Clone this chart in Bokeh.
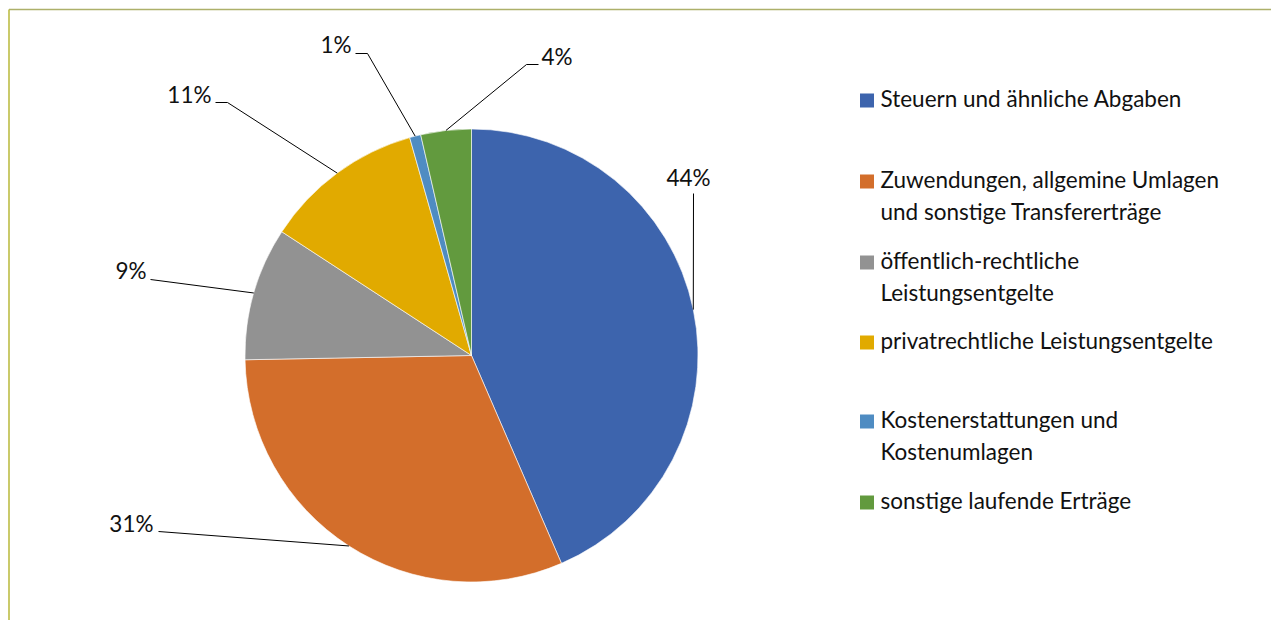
import math
from bokeh.plotting import figure
from bokeh.models import Range1d, ColumnDataSource
from bokeh.core.properties import value
from bokeh.embed import file_html
from bokeh.resources import INLINE

# ---- data ----
categories = [
    "Steuern und ähnliche Abgaben",
    "Zuwendungen, allgemine Umlagen\nund sonstige Transfererträge",
    "öffentlich-rechtliche\nLeistungsentgelte",
    "privatrechtliche Leistungsentgelte",
    "Kostenerstattungen und\nKostenumlagen",
    "sonstige laufende Erträge",
]
values = [43.5, 31.2, 9.5, 11.4, 0.8, 3.6]
pct_labels = ["44%", "31%", "9%", "11%", "1%", "4%"]
colors = ["#3d64ad", "#d36e2b", "#929292", "#e1aa00", "#4f8cc2", "#629a3e"]

# ---- layout (pixel coords, measured from top-left) ----
W, H = 1271, 620
CX, CY, R = 471, 355, 226.5
FONT = "Lato"
FS = "22.5px"
# label anchor (x, y, align) and optional elbow point for leaders
label_pos = [(688, 177, "center"), (153, 523, "right"), (146, 270, "right"),
             (211, 94, "right"), (351, 44, "right"), (541, 56, "left")]
leader_start = [(693, 193), (158, 531), (150, 279), (215, 102), (355, 53), (538, 64)]
leader_elbow = [None, None, None, (227, 102), (367, 53), (526, 64)]
legend_y = [100, 181, 262, 342, 421, 502]
LINE_H = 32

def Y(py):
    return H - py

p = figure(width=W, height=H, x_range=Range1d(0, W), y_range=Range1d(0, H),
           output_backend="svg", toolbar_location=None, min_border=0)
p.axis.visible = False
p.grid.visible = False
p.outline_line_color = None
p.background_fill_color = "white"
p.border_fill_color = "white"

# frame lines
p.segment(x0=[8.5], y0=[Y(9)], x1=[W], y1=[Y(9)], line_color="#adb06a", line_width=1.5)
p.segment(x0=[8.5], y0=[Y(9)], x1=[8.5], y1=[0], line_color="#b8b83a", line_width=1.5)

# wedges
total = sum(values)
cum = 0.0
starts, ends, mids = [], [], []
for v in values:
    a0 = cum / total
    cum += v
    a1 = cum / total
    starts.append(math.pi / 2 - 2 * math.pi * a1)
    ends.append(math.pi / 2 - 2 * math.pi * a0)
    mids.append(math.pi / 2 - 2 * math.pi * (a0 + a1) / 2)

src = ColumnDataSource(dict(x=[CX] * len(values), y=[Y(CY)] * len(values),
                            start=starts, end=ends, color=colors))
p.wedge(x="x", y="y", radius=R, start_angle="start", end_angle="end",
        fill_color="color", line_color="white", line_width=0.6, source=src)

# leader lines and labels
for i, m in enumerate(mids):
    ex = CX + R * math.cos(m)
    ey = CY - R * math.sin(m)
    xs = [leader_start[i][0]]
    ys = [Y(leader_start[i][1])]
    if leader_elbow[i] is not None:
        xs.append(leader_elbow[i][0])
        ys.append(Y(leader_elbow[i][1]))
    xs.append(ex)
    ys.append(Y(ey))
    p.line(xs, ys, line_color="black", line_width=1)
    lx, ly, al = label_pos[i]
    p.text(x=[lx], y=[Y(ly)], text=[pct_labels[i]], text_align=al,
           text_baseline="middle", text_font=value(FONT),
           text_font_size=FS, text_color="#111111")

# legend
for i, cat in enumerate(categories):
    yy = legend_y[i]
    p.rect(x=[866.5], y=[Y(yy)], width=14, height=14, fill_color=colors[i], line_color=None)
    for j, line in enumerate(cat.split("\n")):
        p.text(x=[880], y=[Y(yy - 2 + j * LINE_H)], text=[line], text_align="left",
               text_baseline="middle", text_font=value(FONT),
               text_font_size=FS, text_color="#111111")

open("out.html", "w").write(file_html(p, INLINE))
